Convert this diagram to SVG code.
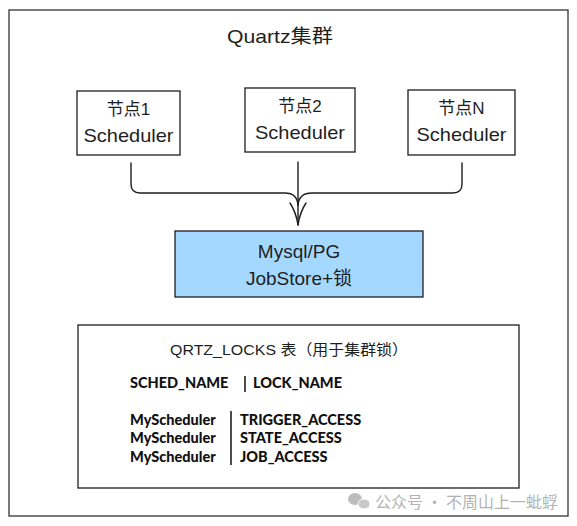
<svg xmlns="http://www.w3.org/2000/svg" width="577" height="526" viewBox="0 0 577 526">
<style>
.box{fill:#fff;stroke:#1e1e1e;stroke-width:1.3}
.hand{font-family:"Liberation Sans","Noto Sans CJK SC",sans-serif;fill:#1e1e1e;text-anchor:middle}
.bold{font-family:Lato,"Liberation Sans",sans-serif;font-weight:900;fill:#111;font-size:14.5px}
.conn{fill:none;stroke:#1e1e1e;stroke-width:1.4;stroke-linecap:round;stroke-linejoin:round}
.wm{font-family:"Noto Sans CJK SC",sans-serif;fill:#b3b3b3;font-size:16px}
</style>
<rect width="577" height="526" fill="#fff"/>
<g id="frame">
<rect x="9" y="10" width="559" height="506" fill="#fff" stroke="#333" stroke-width="1.3"/>
<text class="hand" x="280" y="43" font-size="19" textLength="106" lengthAdjust="spacingAndGlyphs">Quartz集群</text>
</g>
<g id="node1">
<rect class="box" x="77" y="91" width="103" height="64"/>
<text class="hand" x="128.5" y="115" font-size="17">节点1</text>
<text class="hand" x="128.5" y="142" font-size="19" textLength="90" lengthAdjust="spacingAndGlyphs">Scheduler</text>
</g>
<g id="node2">
<rect class="box" x="245" y="88" width="110" height="64"/>
<text class="hand" x="300" y="112" font-size="17">节点2</text>
<text class="hand" x="300" y="139" font-size="19" textLength="90" lengthAdjust="spacingAndGlyphs">Scheduler</text>
</g>
<g id="nodeN">
<rect class="box" x="408" y="90" width="107" height="65"/>
<text class="hand" x="461.5" y="114" font-size="17">节点N</text>
<text class="hand" x="461.5" y="141" font-size="19" textLength="90" lengthAdjust="spacingAndGlyphs">Scheduler</text>
</g>
<g id="connectors">
<path class="conn" d="M131 163 V184 Q131 193 140 193 H285 Q297 193 298 205"/>
<path class="conn" d="M298 162 V225"/>
<path class="conn" d="M462 163 V184 Q462 193 453 193 H312 Q299 193 298 205"/>
<path class="conn" d="M290 203 Q296 212 298 225 Q300 212 306 203"/>
</g>
<g id="store">
<rect x="175" y="231" width="248" height="66" fill="#a5d8ff" stroke="#1e1e1e" stroke-width="1.3"/>
<text class="hand" x="299" y="258" font-size="19">Mysql/PG</text>
<text class="hand" x="299" y="285" font-size="19">JobStore+锁</text>
</g>
<g id="table">
<rect class="box" x="78" y="325" width="441" height="163"/>
<text class="hand" x="289" y="355" font-size="15" textLength="238" lengthAdjust="spacingAndGlyphs">QRTZ_LOCKS 表（用于集群锁）</text>
<text class="bold" x="130" y="388">SCHED_NAME</text>
<line x1="245" y1="376" x2="245" y2="392" stroke="#111" stroke-width="1.5"/>
<text class="bold" x="253" y="388">LOCK_NAME</text>
<text class="bold" x="130" y="425">MyScheduler</text>
<text class="bold" x="130" y="443">MyScheduler</text>
<text class="bold" x="130" y="462">MyScheduler</text>
<line x1="231" y1="411" x2="231" y2="465" stroke="#111" stroke-width="1.5"/>
<text class="bold" x="240" y="425">TRIGGER_ACCESS</text>
<text class="bold" x="240" y="443">STATE_ACCESS</text>
<text class="bold" x="240" y="462">JOB_ACCESS</text>
</g>
<g id="watermark">
<ellipse cx="355" cy="499" rx="7" ry="6" fill="#bdbdbd"/>
<ellipse cx="364" cy="504" rx="6" ry="5" fill="#c8c8c8" stroke="#fff" stroke-width="1"/>
<text class="wm" x="375" y="508" textLength="183" lengthAdjust="spacingAndGlyphs">公众号 · 不周山上一蚍蜉</text>
</g>
</svg>
